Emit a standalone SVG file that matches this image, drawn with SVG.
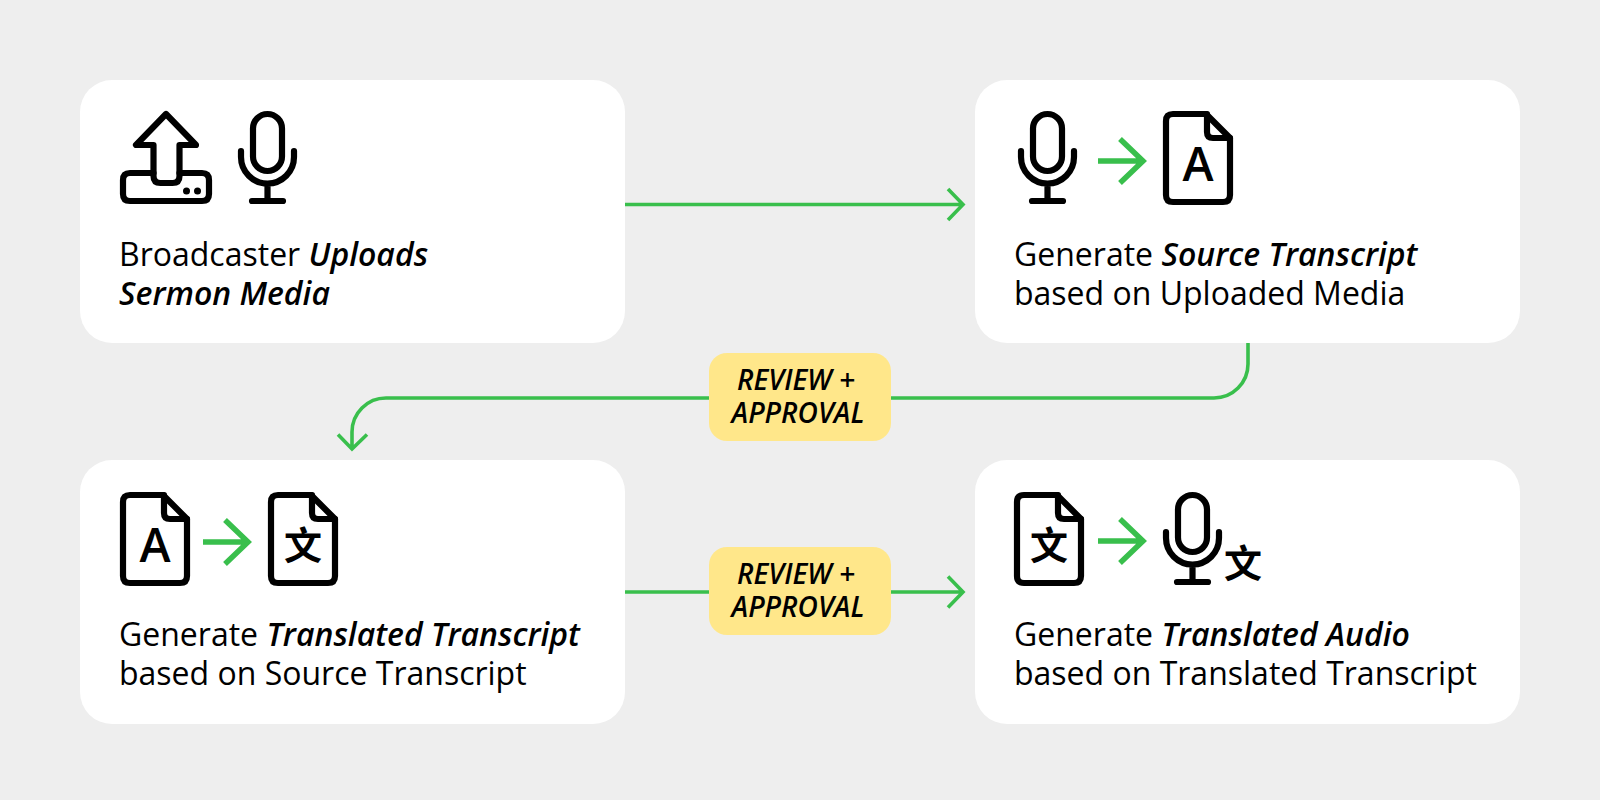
<svg xmlns="http://www.w3.org/2000/svg" width="1600" height="800" viewBox="0 0 1600 800">
<style>
.card{fill:#fff}
.pill{fill:#ffe78a}
.ic{fill:none;stroke:#000;stroke-width:6.2;stroke-linecap:round;stroke-linejoin:round}
.ga{fill:none;stroke:#39bf4c;stroke-width:5.5;stroke-linejoin:miter}
.con{fill:none;stroke:#39bf4c;stroke-width:3.6}
.t{font-family:"Open Sans","Noto Sans",sans-serif;font-size:32px;fill:#000}
.b{font-weight:600;font-style:italic}
.p{font-family:"Open Sans","Noto Sans",sans-serif;font-size:28px;font-weight:600;font-style:italic;fill:#000;text-anchor:middle}
.A{font-family:"Open Sans","Liberation Sans",sans-serif;font-size:47px;font-weight:600;text-anchor:middle;fill:#000}
.W{font-family:"Noto Sans CJK SC",sans-serif;font-size:38px;font-weight:700;text-anchor:middle;fill:#000}
</style>
<defs>
<g id="mic" class="ic"><rect x="253" y="114" width="29" height="57" rx="14.5"/><path d="M241 151V157a26.5 26.5 0 0 0 53 0V151M267.500 184V201M252 201H283"/></g>
<g id="file" class="ic"><path d="M10 3H43L67 27V84q0 7-7 7H10q-7 0-7-7V10q0-7 7-7Z"/><path d="M44 3V21q0 6 6 6H67"/></g>
<path id="arr" class="ga" d="M0 0H45M22-22L45 0L22 22"/>
</defs>
<rect width="1600" height="800" fill="#eeeeee"/>
<g id="connectors">
<path class="con" d="M625 204.500H962M948 189L963 204.500L948 220"/>
<path class="con" d="M1248 343V364a34 34 0 0 1-34 34H386a34 34 0 0 0-34 34V449M338 434.500L352 449L367 434.500"/>
<path class="con" d="M625 592H962M948 576.500L963 592L948 607.500"/>
</g>
<g id="node1">
<rect class="card" x="80" y="80" width="545" height="263" rx="32"/>
<g class="ic"><path d="M166 114L136 145H153.500V176q0 7 7 7H172.500q7 0 7-7V145H196Z"/><path d="M153.500 173H130q-7 0-7 7V194q0 7 7 7H202q7 0 7-7V180q0-7-7-7H179.500"/></g>
<circle cx="186.500" cy="191" r="3.500"/><circle cx="197.500" cy="191" r="3.500"/>
<use href="#mic"/>
<text class="t" x="119" y="266">Broadcaster <tspan class="b">Uploads</tspan></text>
<text class="t b" x="119" y="305">Sermon Media</text>
</g>
<g id="node2">
<rect class="card" x="975" y="80" width="545" height="263" rx="32"/>
<use href="#mic" x="780"/>
<use href="#arr" x="1098" y="161"/>
<use href="#file" x="1163" y="111"/>
<text class="A" x="1198" y="181">A</text>
<text class="t" x="1014" y="266">Generate <tspan class="b">Source Transcript</tspan></text>
<text class="t" x="1014" y="305">based on Uploaded Media</text>
</g>
<g id="node3">
<rect class="card" x="80" y="460" width="545" height="264" rx="32"/>
<use href="#file" x="120" y="492"/>
<text class="A" x="155" y="562">A</text>
<use href="#arr" x="203" y="542"/>
<use href="#file" x="268" y="492"/>
<text class="W" x="303" y="559">文</text>
<text class="t" x="119" y="646">Generate <tspan class="b">Translated Transcript</tspan></text>
<text class="t" x="119" y="685">based on Source Transcript</text>
</g>
<g id="node4">
<rect class="card" x="975" y="460" width="545" height="264" rx="32"/>
<use href="#file" x="1014" y="492"/>
<text class="W" x="1049" y="559">文</text>
<use href="#arr" x="1098" y="541"/>
<use href="#mic" x="925" y="381"/>
<text class="W" x="1243" y="577">文</text>
<text class="t" x="1014" y="646">Generate <tspan class="b">Translated Audio</tspan></text>
<text class="t" x="1014" y="685">based on Translated Transcript</text>
</g>
<g id="pill1">
<rect class="pill" x="709" y="353" width="182" height="88" rx="18"/>
<text class="p" x="796" y="390">REVIEW +</text>
<text class="p" x="798" y="423">APPROVAL</text>
</g>
<g id="pill2">
<rect class="pill" x="709" y="547" width="182" height="88" rx="18"/>
<text class="p" x="796" y="584">REVIEW +</text>
<text class="p" x="798" y="617">APPROVAL</text>
</g>
</svg>
